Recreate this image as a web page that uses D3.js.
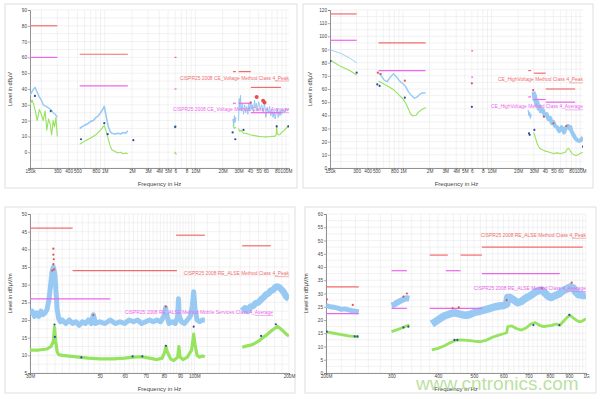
<!DOCTYPE html>
<html><head><meta charset="utf-8">
<script src="https://cdn.jsdelivr.net/npm/d3@7"></script>
<style>html,body{margin:0;padding:0;background:#fff;}svg{display:block;font-family:"Liberation Sans",Arial,sans-serif;}</style>
</head><body><svg id="c" width="600" height="399"></svg>
<script>
// ---------- DATA (frequency in MHz, level in dB) ----------
// Panel 1: CE voltage method
const p1PeakLimits = [[0.15,0.3,80],[0.53,1.8,62],[5.9,6.2,60],[26,28,51],[30,41,51],[41,88,41]];
const p1AvgLimits  = [[0.15,0.3,60],[0.53,1.8,42],[5.9,6.2,40],[26,28,31],[30,41,31],[41,88,25]];
const p1Peak = [
 [[0.15,36],[0.16,39],[0.17,41],[0.18,38],[0.19,35],[0.2,33],[0.21,30],[0.225,29],[0.24,28],[0.255,27],[0.27,25],[0.285,24],[0.3,22]],
 [[0.53,15],[0.56,16],[0.6,17],[0.65,18],[0.7,19.5],[0.75,20],[0.8,22],[0.85,23],[0.9,25],[0.95,27],[0.99,29],[1.02,25],[1.06,20],[1.1,16],[1.15,13],[1.2,12],[1.3,11.5],[1.4,12],[1.5,11.5],[1.6,12.5],[1.7,12],[1.8,13.5]],
 [[5.9,15],[6.0,17],[6.2,16]],
 [[26,21],[26.5,17],[27,23],[27.5,19],[28,22]],
 [[30,20],[30.5,34],[31,27],[31.5,36],[32,26],[33,31],[34,24],[35,30],[36,25],[37,29],[38,24],[39,31],[40,26],[41,32],[42,27],[43,30],[44,25],[45,33],[46,28],[47,31],[48,26],[50,32],[52,27],[54,30],[56,25],[58,31],[60,22],[62,28],[64,25],[66,29],[68,23],[70,27],[72,22],[74,26],[76,21],[78,25],[80,28],[82,22],[84,26],[86,23],[88,27],[90,24],[93,27],[96,25],[100,28],[104,26],[108,28]]
];
const p1Avg = [
 [[0.15,30],[0.158,33],[0.165,30],[0.172,26],[0.18,20],[0.19,27],[0.2,24],[0.21,20],[0.22,26],[0.23,14],[0.24,21],[0.25,18],[0.26,11],[0.27,20],[0.28,16],[0.29,22],[0.3,10]],
 [[0.53,5],[0.6,7],[0.7,9],[0.8,11],[0.9,14],[0.99,17],[1.04,13],[1.1,8],[1.15,4],[1.2,1.5],[1.3,0.5],[1.4,-0.5],[1.5,0],[1.6,-1],[1.7,-0.5],[1.8,-1]],
 [[5.9,-1],[6.0,0],[6.2,-1.5]],
 [[26,17],[27,15],[28,16]],
 [[30,15],[31,13],[32,14],[34,12],[36,12],[40,11],[45,10.5],[50,10],[55,9.8],[60,9.7],[65,9.8],[70,10],[75,10],[78,11],[79,17],[80,12],[82,11],[85,11],[88,12],[92,13],[96,14],[100,15],[104,16],[108,17]]
];
const p1AvgMarks  = [[0.17,35.6],[0.254,26],[0.548,8.2],[0.99,18.4],[1.08,11.4],[2.07,7.6],[6.0,16],[25.8,12.5],[27.6,8.2],[34,14.1],[79,16.3],[106,16.3]];
const p1PeakMarks = [[40.8,31.4],[47.5,35],[56,32.5],[58,31.4]];

// Panel 2: CE high-voltage method
const p2PeakLimits = [[0.15,0.3,117],[0.53,1.8,95],[5.9,6.2,89],[26,28,74],[30,41,72],[41,88,60]];
const p2AvgLimits  = [[0.15,0.3,97],[0.53,1.8,74],[5.9,6.2,69],[26,28,54],[30,41,52],[41,88,50]];
const p2Peak = [
 [[0.15,90],[0.17,88.5],[0.2,87],[0.22,85.5],[0.25,83.5],[0.27,82],[0.3,80]],
 [[0.53,72],[0.57,70],[0.61,67],[0.66,65.5],[0.72,69],[0.78,71.5],[0.85,69],[0.92,66],[1.0,64],[1.07,62],[1.15,58],[1.25,55],[1.35,53],[1.45,54],[1.55,56],[1.65,57],[1.8,57]],
 [[26,44],[26.5,40],[27,42],[27.5,38],[28,41]],
 [[30,58],[30.5,52],[31,55],[32,48],[33,50],[34,45],[35,47],[36,43],[38,44],[40,40],[42,41],[44,37],[46,38],[48,34],[50,35],[52,32],[55,31],[58,28],[60,29],[62,31],[64,29],[66,27],[68,29],[70,31],[73,32],[76,30],[78,31],[80,28],[83,26],[86,24],[90,22],[94,21],[98,20.5],[102,21],[105,22.5],[108,23]]
];
const p2Avg = [
 [[0.15,82],[0.2,77],[0.25,74],[0.3,70.6]],
 [[0.53,66],[0.6,64],[0.7,61.5],[0.8,59],[0.9,55.5],[1.0,52.5],[1.08,49],[1.15,45],[1.22,41],[1.3,39.5],[1.4,40],[1.5,42.5],[1.65,44.5],[1.8,46]],
 [[30,27],[31,24],[32,21],[33,18],[35,15],[37,14],[40,13],[45,12],[50,11],[55,11.5],[60,11],[65,11.5],[68,12],[71,14],[74,15],[77,13.5],[80,11.5],[85,10],[90,9.5],[95,10],[100,11],[108,12]]
];
const p2AvgMarks  = [[0.152,81.2],[0.3,72.4],[0.513,63.5],[0.545,62.3],[1.05,53.4],[6.0,46.5],[26.5,26.3],[27,25.2],[30.5,28.9],[108,16.2]];
const p2PeakMarks = [[0.52,72.4],[0.56,71.4],[1.05,66.3],[6.0,64.3],[29.6,59.2],[39,39],[50,33.9],[70,31.9]];

// Panel 3: RE ALSE 30-200 MHz
const p3PeakLimits = [[30,41,46],[41,88,34],[87.5,108,44],[142,175,41]];
const p3AvgLimits  = [[30,54,26]];
const p3Peak = [
 [[30,21.5],[30.5,22.5],[31,21],[31.5,22],[32,21],[32.5,22.5],[33,21.5],[33.5,22],[34,23],[34.5,26],[35,31],[35.3,34],[35.6,35],[36,33],[36.3,28],[36.6,23],[37,20.5],[37.5,19.5],[38,20],[39,19],[40,20],[41,19],[42,19.5],[43,18.5],[44,19.5],[45,19],[46,20],[47,19],[47.7,21.5],[48.5,19],[50,19.5],[52,19],[54,20],[56,19],[58,19.5],[60,19],[62,20],[64,19.5],[66,20],[68,19],[70,19.5],[72,20],[74,19.5],[76,20],[78,19.5],[80,21],[81,23.5],[82,21],[83,19],[85,19.5],[87,19],[88.5,21],[89,26],[89.5,21],[91,19.5],[93,19],[95,20],[97,21],[98.5,24],[99.5,28],[100.5,23],[102,20],[104,19.5],[106,20],[108,20]],
 [[142,22.5],[145,23.3],[148,22.6],[151,23.8],[154,24],[157,24.8],[160,25],[163,25.8],[166,26.4],[169,27.2],[172,27.5],[175,28.3],[178,28.5],[181,29.3],[184,29.5],[187,29.1],[190,28.5],[193,27.7],[196,26.6],[200,26]]
];
const p3Avg = [
 [[30,11.5],[32,11.5],[34,11.8],[35,12.5],[35.6,14],[35.9,18],[36.2,14],[36.6,11],[37,10.2],[38,10],[40,9.8],[43,9.5],[46,9.2],[50,9],[55,9],[60,9.2],[64,9.5],[68,9.6],[72,9.2],[76,8.8],[79,9.2],[80.5,11],[81.2,12.5],[82,11],[84,9],[86,8.5],[88.5,9.5],[89.3,12.5],[90,9.5],[92,8.8],[95,9.5],[98,11.5],[99.5,16],[100.5,13],[102,10],[104,9.5],[106,9.8],[108,9.6]],
 [[142,12.3],[146,12.6],[150,12.8],[155,13.3],[160,14],[165,15],[170,15.8],[175,16.8],[180,17.6],[184,18.2],[188,17.5],[192,16.8],[196,16],[200,15.5]]
];
const p3AvgMarks  = [[35.9,18.7],[36,15.2],[43.7,9.4],[63.6,9.7],[68.3,9.7],[81.2,12.7],[99.5,18.1],[163,15.5],[181.6,18.8]];
const p3PeakMarks = [[35.6,40.2],[35.6,38.5],[35.7,37.2],[35.6,35.8],[35.8,34.3],[35.3,34],[47.7,21.4],[81.2,23.8]];

// Panel 4: RE ALSE 200-1000 MHz
const p4PeakLimits = [[200,245,32.5],[380,425,44.5],[460,525,44.5],[525,980,47.5]];
const p4AvgLimits  = [[200,245,22.4],[300,330,38.6],[300,330,24.4],[380,525,24.4],[420,460,38.6],[525,850,37.5]];
const p4Peak = [
 [[200,25.5],[205,25],[210,24.8],[215,24.5],[220,24],[225,24.2],[230,23.8],[235,23.5],[240,23.3],[245,23]],
 [[300,25.5],[305,25.8],[310,26.5],[315,27],[320,27.5],[325,28],[330,28.2],[335,28]],
 [[385,18.5],[395,19.5],[405,20.5],[415,21.5],[425,22],[435,22.5],[445,22.7],[455,22.3],[465,22],[475,21.8],[485,22],[495,22.5],[505,23],[515,23.2],[525,23.5],[540,24],[555,24.5],[570,25],[585,25.3],[600,25.5],[612,26],[616,28.5],[625,28.5],[640,27.5],[655,26.5],[670,27],[685,28],[700,28.8],[715,29.5],[730,30.5],[745,31],[760,31.3],[775,30.2],[790,29],[805,28.5],[820,29],[835,29.5],[850,30],[865,31],[880,31.5],[895,32],[910,32.5],[925,32],[940,30.5],[955,29.5],[970,29.5],[985,29.2],[1000,29.5]]
];
const p4Avg = [
 [[200,15.5],[210,15],[220,14.5],[230,14],[240,13.7],[245,13.6]],
 [[300,15.6],[310,16.3],[320,17],[330,17.8],[335,18.1]],
 [[385,8.7],[400,9.3],[415,10.2],[430,11.3],[445,12.3],[460,12.5],[480,12.3],[500,12],[520,11.8],[540,12.4],[560,13.5],[580,14.2],[600,14.8],[612,15.2],[616,17.5],[630,17.8],[650,16.8],[670,16.2],[690,17],[710,18.5],[730,19],[750,18],[770,17.5],[790,17.8],[810,18],[830,18.5],[850,18],[870,19.5],[890,21],[905,21.8],[920,21],[940,20],[960,19.3],[980,19.7],[1000,20.5]]
];
const p4AvgMarks  = [[201,15.6],[239,13.8],[243,13.8],[323,17.2],[333,17.5],[443,12.5],[451,12.5],[722,18.1],[848,18.1],[902,21.9]];
const p4PeakMarks = [[201,27.8],[236,25.7],[323,28.8],[330,30],[438,24.4],[455,24.8],[612,27.5],[760,32],[915,34.1]];

// Tick labels
const ceTickVals   = [0.15,0.3,0.4,0.5,0.8,1,2,3,4,5,6,8,10,20,30,40,50,60,80,100];
const ceTickLabels = ["150k","300","400","500","800","1M","2M","3M","4M","5M","6","8","10M","20M","30M","40","50","60","80","100M"];
const re1TickVals   = [30,50,60,70,80,90,100,200];
const re1TickLabels = ["30M","50","60","70","80","90","100M","200M"];
const re2TickVals   = [200,300,400,500,600,700,800,900,1000];
const re2TickLabels = ["200M","300","400","500","600","700","800","900","1G"];

const peakLabels = ["CISPR25 2008 CE_Voltage Method Class 4_Peak","CE_HighVoltage Method Class 4_Peak","CISPR25 2008 RE_ALSE Method Class 4_Peak","CISPR25 2008 RE_ALSE Method Class 4_Peak"];
const avgLabels  = ["CISPR25 2008 CE_Voltage Method Class 4_Average","CE_HighVoltage Method Class 4_Average","CISPR25 2008 RE_ALSE Method Mobile Services Class 4_Average","CISPR25 2008 RE_ALSE Method Class 4_Average"];

// ---------- LAYOUT ----------
const C = {blue:"#92c6f2", green:"#95e35f", red:"#f06c6c", mag:"#ec66ec", dot:"#2b4c9b", rdot:"#e55050"};
const panels = [
 {box:[5,4,292,184], plot:[30,10,289,168], xd:[0.15,108], yd:[-10,90], yt:d3.range(0,91,10), ygrid:5,
  xt:ceTickVals, xl:ceTickLabels, ytitle:"Level in dBµV", peak:p1Peak, avg:p1Avg, pl:p1PeakLimits, al:p1AvgLimits,
  am:p1AvgMarks, pm:p1PeakMarks, bw:[1.4,1.6,1.2,1.2,1.0], gw:1.1, lblP:46, lblA:26, lblAEnd:289, bigRed:true},
 {box:[303,4,290,184], plot:[330,10,583,168], xd:[0.15,108], yd:[0,120], yt:d3.range(0,121,10), ygrid:5,
  xt:ceTickVals, xl:ceTickLabels, ytitle:"Level in dBµV", peak:p2Peak, avg:p2Avg, pl:p2PeakLimits, al:p2AvgLimits,
  am:p2AvgMarks, pm:p2PeakMarks, bw:[0.9,1.4,1.4,4], gw:1.1, lblP:65.8, lblA:45.3, lblAEnd:583},
 {box:[5,207,290,186], plot:[30,214,289,373], xd:[30,200], yd:[5,50], yt:d3.range(5,51,5), ygrid:2.5,
  xt:re1TickVals, xl:re1TickLabels, ytitle:"Level in dBµV/m", peak:p3Peak, avg:p3Avg, pl:p3PeakLimits, al:p3AvgLimits,
  am:p3AvgMarks, pm:p3PeakMarks, bw:[5,6.5], gw:3.2, lblP:32.7, lblA:21.7, lblAEnd:273},
 {box:[305,207,291,186], plot:[326,214,586,373], xd:[200,1000], yd:[0,60], yt:d3.range(0,61,5), ygrid:2.5,
  xt:re2TickVals, xl:re2TickLabels, ytitle:"Level in dBµV/m", peak:p4Peak, avg:p4Avg, pl:p4PeakLimits, al:p4AvgLimits,
  am:p4AvgMarks, pm:p4PeakMarks, bw:[5,6,7.5], gw:2.8, lblP:51.4, lblA:31.3, lblAEnd:586}
];

const svg = d3.select("#c");
panels.forEach((p,i)=>{
  const [px0,py0,px1,py1] = p.plot;
  const g = svg.append("g");
  g.append("rect").attr("x",p.box[0]).attr("y",p.box[1]).attr("width",p.box[2]).attr("height",p.box[3])
   .attr("fill","#fff").attr("stroke","#d6d6d6").attr("stroke-width",0.8);
  const x = d3.scaleLog().domain(p.xd).range([px0,px1]);
  const y = d3.scaleLinear().domain(p.yd).range([py1,py0]);
  // grid
  const vgrid = [];
  for (let dec=Math.pow(10,Math.floor(Math.log10(p.xd[0]))); dec<=p.xd[1]; dec*=10)
    for (let m=1;m<10;m++){ const f=+(m*dec).toPrecision(6); if(f>=p.xd[0]&&f<=p.xd[1]) vgrid.push(f); }
  if (p.xd[0]===200) { vgrid.length=0; for(let f=200; f<=1000; f+=20) vgrid.push(f); }
  if (p.xd[0]===30) { vgrid.length=0; for(let f=30; f<100; f+=2) vgrid.push(f); for(let f=100; f<=200; f+=10) vgrid.push(f); }
  g.selectAll(".vg").data(vgrid).enter().append("line")
   .attr("x1",d=>x(d)).attr("x2",d=>x(d)).attr("y1",py0).attr("y2",py1)
   .attr("stroke","#e9e9e9").attr("stroke-width",0.6);
  const hgrid = d3.range(p.yd[0], p.yd[1]+0.001, p.ygrid);
  g.selectAll(".hg").data(hgrid).enter().append("line")
   .attr("x1",px0).attr("x2",px1).attr("y1",d=>y(d)).attr("y2",d=>y(d))
   .attr("stroke","#e9e9e9").attr("stroke-width",0.6);
  // axes
  const ax = d3.axisBottom(x).tickValues(p.xt).tickFormat((d,k)=>p.xl[k]).tickSize(2);
  const axg = g.append("g").attr("transform",`translate(0,${py1})`).call(ax);
  const ay = d3.axisLeft(y).tickValues(p.yt).tickFormat(d3.format("d")).tickSize(2);
  const ayg = g.append("g").attr("transform",`translate(${px0},0)`).call(ay);
  [axg,ayg].forEach(a=>{
    a.selectAll("path").attr("stroke","#777").attr("stroke-width",0.8);
    a.selectAll("line").attr("stroke","#777").attr("stroke-width",0.6);
    a.selectAll("text").attr("font-size","4.7px").attr("fill","#444").attr("font-family","Liberation Sans, Arial, sans-serif");
  });
  axg.selectAll("text").attr("dy","0.5em").attr("y",3);
  ayg.selectAll("text").attr("x",-3);
  g.append("text").attr("x",(px0+px1)/2).attr("y",py1+18).attr("text-anchor","middle")
   .attr("font-size","6px").attr("fill","#444").text("Frequency in Hz");
  g.append("text").attr("transform",`translate(${px0-18},${(py0+py1)/2}) rotate(-90)`).attr("text-anchor","middle")
   .attr("font-size","5.5px").attr("fill","#444").text(p.ytitle);

  const clipId = "clip"+i;
  g.append("clipPath").attr("id",clipId).append("rect").attr("x",px0).attr("y",py0-2).attr("width",px1-px0).attr("height",py1-py0+2);
  const pg = g.append("g").attr("clip-path",`url(#${clipId})`);
  const line = d3.line().x(d=>x(d[0])).y(d=>y(d[1]));
  // traces
  p.peak.forEach((s,k)=>{
    pg.append("path").attr("d",line(s)).attr("fill","none").attr("stroke",C.blue)
      .attr("stroke-width",p.bw[k]||1.2).attr("stroke-linejoin","round").attr("opacity",0.95);
  });
  p.avg.forEach(s=>{
    pg.append("path").attr("d",line(s)).attr("fill","none").attr("stroke",C.green)
      .attr("stroke-width",p.gw).attr("stroke-linejoin","round");
  });
  // limits
  p.pl.forEach(l=>{
    pg.append("line").attr("x1",x(l[0])).attr("x2",Math.max(x(l[1]),x(l[0])+1.5)).attr("y1",y(l[2])).attr("y2",y(l[2]))
      .attr("stroke",C.red).attr("stroke-width",1.2);
  });
  p.al.forEach(l=>{
    pg.append("line").attr("x1",x(l[0])).attr("x2",Math.max(x(l[1]),x(l[0])+1.5)).attr("y1",y(l[2])).attr("y2",y(l[2]))
      .attr("stroke",C.mag).attr("stroke-width",1.2);
  });
  // markers
  pg.selectAll(".am").data(p.am).enter().append("circle")
    .attr("cx",d=>x(d[0])).attr("cy",d=>y(d[1])).attr("r",1.1).attr("fill",C.dot);
  pg.selectAll(".pm").data(p.pm).enter().append("circle")
    .attr("cx",d=>x(d[0])).attr("cy",d=>y(d[1])).attr("r",(d,k)=> (p.bigRed && k>0)?2:1.1).attr("fill",C.rdot);
  // limit labels
  g.append("text").attr("x",px1).attr("y",y(p.lblP)).attr("text-anchor","end")
    .attr("font-size","4.9px").attr("fill",C.red).text(peakLabels[i]);
  g.append("line").attr("x1",px1-14).attr("x2",px1).attr("y1",y(p.lblP)+1.5).attr("y2",y(p.lblP)+1.5).attr("stroke",C.red).attr("stroke-width",0.5);
  g.append("text").attr("x",p.lblAEnd).attr("y",y(p.lblA)).attr("text-anchor","end")
    .attr("font-size","4.9px").attr("fill",C.mag).text(avgLabels[i]);
  g.append("line").attr("x1",p.lblAEnd-18).attr("x2",p.lblAEnd).attr("y1",y(p.lblA)+1.5).attr("y2",y(p.lblA)+1.5).attr("stroke",C.mag).attr("stroke-width",0.5);
});
// watermark
svg.append("text").attr("x",416).attr("y",390).attr("font-size","19px").attr("fill","#9fd57a").attr("opacity",0.7)
  .attr("font-family","Liberation Sans, Arial, sans-serif").text("www.cntronics.com");
</script></body></html>
